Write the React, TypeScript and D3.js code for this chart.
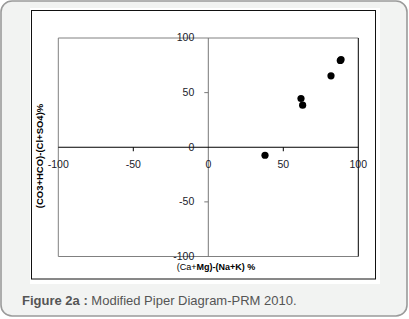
import React from "react";
import * as d3 from "d3";

const xValues = [37.8, 61.8, 62.9, 81.8, 88.0, 88.5];
const yValues = [-7.3, 44.6, 38.5, 65.4, 79.4, 80.3];
const xTicks = [-100, -50, 0, 50, 100];
const yTicks = [-100, -50, 0, 50, 100];
const xTitle = "(Ca+Mg)-(Na+K) %";
const yTitle = "(CO3+HCO)-(Cl+SO4)%";
const captionBold = "Figure 2a :";
const captionText = " Modified Piper Diagram-PRM 2010.";

export default function App() {
  const W = 409, H = 319;
  const L = 58.3, R = 358.3, T = 38, B = 256.5;
  const x = d3.scaleLinear().domain([-100, 100]).range([L, R]);
  const y = d3.scaleLinear().domain([-100, 100]).range([B, T]);
  const x0 = x(0), y0 = y(0);
  const font = "Liberation Sans, Arial, sans-serif";
  return (
    <svg width={W} height={H} style={{ position: "absolute", left: 0, top: 0 }} fontFamily={font}>
      <rect x={1} y={1} width={406} height={315} rx={11} fill="#f2f3f2" stroke="#9a9a9a" strokeWidth={1.6} />
      <rect x={30} y={8} width={350} height={276} fill="#ffffff" />
      <rect x={31.5} y={10.5} width={344} height={268.5} fill="none" stroke="#111" strokeWidth={1} />
      {/* plot border */}
      <line x1={L} x2={R} y1={T} y2={T} stroke="#808080" />
      <line x1={L} x2={L} y1={T} y2={B} stroke="#808080" />
      <line x1={L} x2={R} y1={B} y2={B} stroke="#808080" />
      <line x1={R} x2={R} y1={T} y2={B} stroke="#000" />
      {/* axes */}
      <line x1={x0} x2={x0} y1={T} y2={B} stroke="#777" />
      <line x1={L} x2={R} y1={y0} y2={y0} stroke="#000" />
      {xTicks.filter(t => t !== 0 && Math.abs(t) !== 100).map(t => (
        <line key={"xt" + t} x1={x(t)} x2={x(t)} y1={y0} y2={y0 + 4} stroke="#000" />
      ))}
      {yTicks.filter(t => t !== 0 && Math.abs(t) !== 100).map(t => (
        <line key={"yt" + t} x1={x0 - 4} x2={x0} y1={y(t)} y2={y(t)} stroke="#777" />
      ))}
      {xTicks.map(t => (
        <text key={"xl" + t} x={x(t)} y={y0 + 17.5} fontSize={10.5} textAnchor="middle" dominantBaseline="middle" fill="#1a1a2a">{t}</text>
      ))}
      {yTicks.map(t => (
        <text key={"yl" + t} x={x0 - 14} y={y(t) + 0.5} fontSize={10.5} textAnchor="end" dominantBaseline="middle" fill="#1a1a2a">{t}</text>
      ))}
      {xValues.map((v, i) => (
        <circle key={"p" + i} cx={x(v)} cy={y(yValues[i])} r={3.6} fill="#000" />
      ))}
      <text x={216} y={269.5} fontSize={9} textAnchor="middle" fill="#000">
        <tspan>(Ca+</tspan><tspan fontWeight="bold">Mg)-(Na+K) %</tspan>
      </text>
      <text transform={`translate(43,156) rotate(-90)`} fontSize={9.5} fontWeight="bold" textAnchor="middle" fill="#000">{yTitle}</text>
      <text x={22} y={305} fontSize={13} fill="#555">
        <tspan fontWeight="bold">{captionBold}</tspan><tspan>{captionText}</tspan>
      </text>
    </svg>
  );
}
